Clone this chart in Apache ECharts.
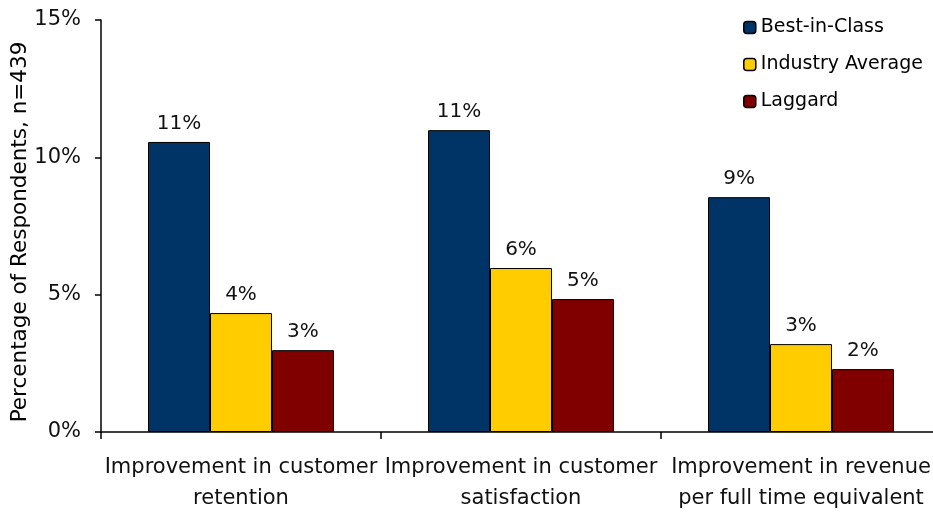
<!DOCTYPE html>
<html><head><meta charset="utf-8">
<script src="https://cdn.jsdelivr.net/npm/echarts@6/dist/echarts.min.js"></script>
<style>html,body{margin:0;padding:0;background:#fff}#c{width:933px;height:512px}</style>
</head><body><div id="c"></div>
<script>
var categories = ["Improvement in customer\nretention", "Improvement in customer\nsatisfaction", "Improvement in revenue\nper full time equivalent"];
var seriesNames = ["Best-in-Class", "Industry Average", "Laggard"];
var bestInClass = [10.56, 10.99, 8.55];
var industryAverage = [4.33, 5.97, 3.2];
var laggard = [2.98, 4.84, 2.29];
var yTicks = [0, 5, 10, 15];
var colors = ["#003366", "#FFCC00", "#800000"];
var font = "'DejaVu Sans', 'Liberation Sans', Arial, sans-serif";
var values = [bestInClass, industryAverage, laggard];
var chart = echarts.init(document.getElementById('c'));
chart.setOption({
  animation: false,
  grid: {left: 101, right: -8, top: 20, bottom: 80, containLabel: false, outerBoundsMode: 'none'},
  legend: {
    orient: 'vertical', right: 5, top: 13, itemWidth: 12, itemHeight: 12, itemGap: 18,
    textStyle: {fontFamily: font, fontSize: 19, color: '#000'},
    data: seriesNames.map(function(n, i){return {name: n, itemStyle: {color: colors[i], borderColor: '#000', borderWidth: 1.5}};})
  },
  xAxis: {
    type: 'category', data: categories,
    axisLine: {lineStyle: {color: '#000', width: 1.5}},
    axisTick: {show: true, length: 7, lineStyle: {color: '#000', width: 1.5}},
    axisLabel: {fontFamily: font, fontSize: 21, color: '#111', margin: 20, lineHeight: 31, interval: 0}
  },
  yAxis: {
    type: 'value', min: yTicks[0], max: yTicks[yTicks.length - 1], interval: 5,
    name: 'Percentage of Respondents, n=439', nameLocation: 'middle', nameGap: 70, nameRotate: 90,
    nameMoveOverlap: false,
    nameTextStyle: {fontFamily: font, fontSize: 21.5, color: '#000', padding: [0, 12, 0, 0]},
    splitLine: {show: false},
    axisLine: {show: true, lineStyle: {color: '#000', width: 1.5}},
    axisTick: {show: true, inside: false, length: 6, lineStyle: {color: '#000', width: 1.5}},
    axisLabel: {fontFamily: font, fontSize: 21, color: '#111', margin: 20, formatter: function(v){return v + '%';}}
  },
  series: seriesNames.map(function(n, i){
    return {
      name: n, type: 'bar', data: values[i], barGap: '0%', barCategoryGap: '33.6%',
      itemStyle: {color: colors[i], borderColor: '#000', borderWidth: 1},
      label: {show: true, position: 'top', distance: 8, fontFamily: font, fontSize: 20, color: '#111',
        formatter: function(p){return Math.round(p.value) + '%';}}
    };
  })
});
</script></body></html>
